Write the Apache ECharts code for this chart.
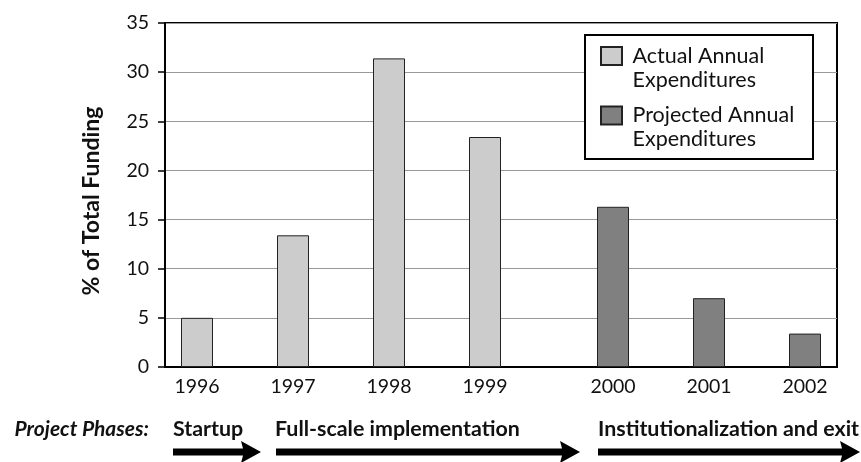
<!DOCTYPE html>
<html>
<head>
<meta charset="utf-8">
<script src="https://cdn.jsdelivr.net/npm/echarts@6/dist/echarts.min.js"></script>
<style>
  html, body { margin: 0; padding: 0; background: #fff; }
  #chart { width: 861px; height: 462px; }
</style>
</head>
<body>
<div id="chart"></div>
<script>
// Share of total project funding spent per year
const years = ['1996', '1997', '1998', '1999', '2000', '2001', '2002'];
const actualSpend = [5.0, 13.4, 31.4, 23.4, null, null, null];
const projectedSpend = [null, null, null, null, 16.3, 7.0, 3.4];
const yTicks = { min: 0, max: 35, interval: 5 };
const seriesNames = ['Actual Annual Expenditures', 'Projected Annual Expenditures'];
const phaseLabels = ['Startup', 'Full-scale implementation', 'Institutionalization and exit'];

const FONT = 'Lato, "Open Sans", sans-serif';

// Draws a thick right-pointing arrow from x0 to the tip at x1, centred on y
function arrow(x0, x1, y) {
  const half = 3.5, headLen = 18, headHalf = 11;
  return {
    type: 'polygon',
    z: 5,
    shape: {
      points: [
        [x0, y - half], [x1 - headLen, y - half], [x1 - headLen - 2, y - headHalf],
        [x1, y], [x1 - headLen - 2, y + headHalf], [x1 - headLen, y + half], [x0, y + half]
      ]
    },
    style: { fill: '#000' }
  };
}

// One legend per series; a leading blank line keeps the swatch level with the first text line
function legendFor(name, top) {
  return {
    data: [{ name: name, icon: 'rect' }],
    left: 600,
    top: top,
    padding: 0,
    orient: 'vertical',
    itemWidth: 21,
    itemHeight: 18,
    selectedMode: false,
    formatter: n => '\n ' + n.replace(' Expenditures', '\n Expenditures'),
    textStyle: {
      fontFamily: FONT,
      fontSize: 21.5,
      lineHeight: 24,
      color: '#111'
    }
  };
}

function phaseText(text, x, size, italic) {
  return {
    type: 'text', z: 5, x: x, y: 429,
    style: {
      text: text, fontFamily: FONT, fontSize: size, fontWeight: 'bold',
      fontStyle: italic ? 'italic' : 'normal', fill: '#111',
      align: italic ? 'right' : 'left', verticalAlign: 'middle'
    }
  };
}

const chart = echarts.init(document.getElementById('chart'));
chart.setOption({
  animation: false,
  backgroundColor: '#fff',
  grid: {
    left: 165, right: 24, top: 23, bottom: 95,
    show: true, borderColor: '#000', borderWidth: 2, backgroundColor: 'transparent'
  },
  legend: [legendFor(seriesNames[0], 20), legendFor(seriesNames[1], 79.5)],
  xAxis: {
    type: 'category',
    data: years,
    axisLine: { lineStyle: { color: '#000', width: 2 } },
    axisTick: { show: false },
    axisLabel: {
      margin: 10,
      formatter: (v, i) => (i < 4 ? '{a|' + v + '}' : '{b|' + v + '}'),
      rich: {
        a: { fontFamily: FONT, fontSize: 19.5, color: '#111', padding: [0, 32, 0, 0] },
        b: { fontFamily: FONT, fontSize: 19.5, color: '#111', padding: [0, 0, 0, 32] }
      }
    }
  },
  yAxis: {
    type: 'value',
    min: yTicks.min,
    max: yTicks.max,
    interval: yTicks.interval,
    name: '% of Total Funding',
    nameLocation: 'middle',
    nameGap: 62,
    nameTextStyle: {
      fontFamily: FONT, fontSize: 23, fontWeight: 'bold', color: '#111',
      padding: [0, 12, 0, 0]
    },
    axisLine: { show: true, lineStyle: { color: '#000', width: 2 } },
    axisTick: { show: true, length: 7, lineStyle: { color: '#000', width: 1.5 } },
    axisLabel: { margin: 16, fontFamily: FONT, fontSize: 19.5, color: '#111' },
    splitLine: { lineStyle: { color: '#999', width: 1.2 } }
  },
  series: [
    {
      name: seriesNames[0],
      type: 'bar',
      data: actualSpend,
      barWidth: 32,
      barGap: 0,
      itemStyle: { color: '#cccccc', borderColor: '#222', borderWidth: 1 }
    },
    {
      name: seriesNames[1],
      type: 'bar',
      data: projectedSpend,
      barWidth: 32,
      barGap: 0,
      itemStyle: { color: '#808080', borderColor: '#222', borderWidth: 1 }
    }
  ],
  graphic: [
    {
      type: 'rect', z: 3,
      shape: { x: 585, y: 35, width: 228, height: 124 },
      style: { fill: '#fff', stroke: '#000', lineWidth: 2 }
    },
    phaseText('Project Phases:', 149, 21, true),
    phaseText(phaseLabels[0], 173, 21.4, false),
    phaseText(phaseLabels[1], 275, 21.4, false),
    phaseText(phaseLabels[2], 598, 21.4, false),
    arrow(173, 261, 452),
    arrow(276, 580, 452),
    arrow(598, 860, 452)
  ]
});
</script>
</body>
</html>
